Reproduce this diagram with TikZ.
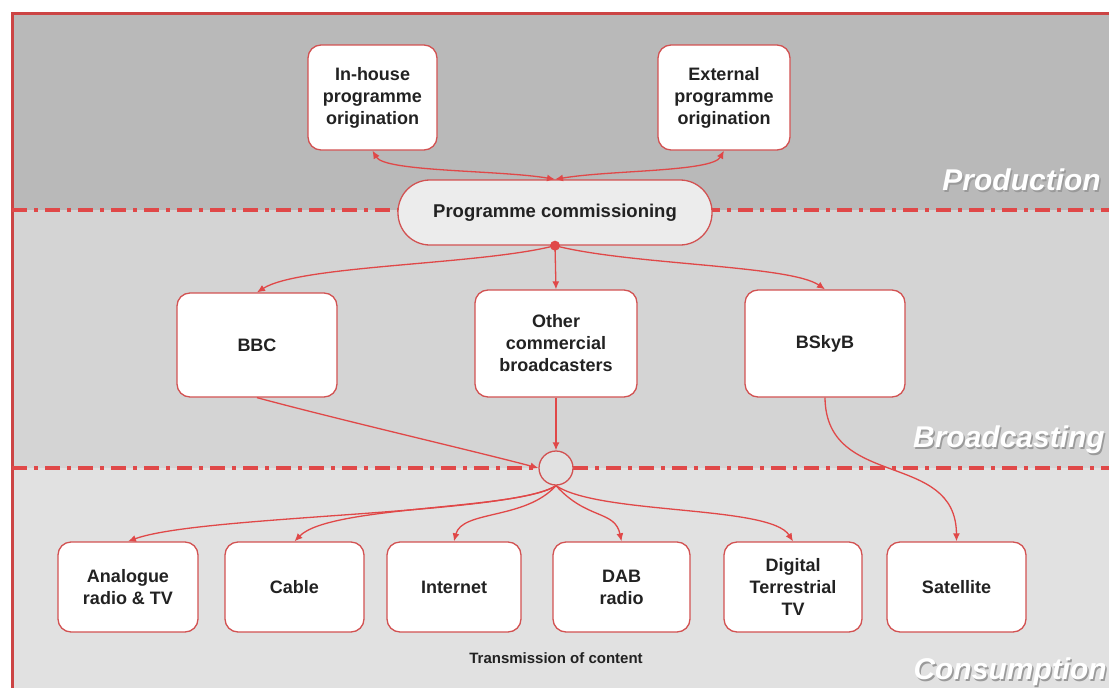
\documentclass[tikz,border=0pt]{standalone}
\usepackage{fontspec}
\setmainfont{Liberation Sans}
\usetikzlibrary{arrows.meta}
\definecolor{prodgray}{HTML}{B9B9B9}
\definecolor{broadgray}{HTML}{D4D4D4}
\definecolor{consgray}{HTML}{E1E1E1}
\definecolor{linered}{HTML}{E04848}
\definecolor{boxred}{HTML}{D25252}
\definecolor{framered}{HTML}{CC4444}
\definecolor{txt}{HTML}{222222}
\definecolor{commfill}{HTML}{ECECEC}
\definecolor{shadowgray}{HTML}{9A9A9A}
\begin{document}
\begin{tikzpicture}[x=1pt,y=-1pt,
  boxnode/.style={draw=boxred, line width=1.3pt, fill=white, rounded corners=13pt,
    align=center, text=txt, font=\fontsize{18}{22}\selectfont\bfseries, inner sep=0pt},
  conn/.style={draw=linered, line width=1.3pt},
  tip/.style={-{Latex[length=8pt,width=7pt]}},
  bitip/.style={{Latex[length=8pt,width=7pt]}-{Latex[length=8pt,width=7pt]}},
  divider/.style={draw=linered, line width=3.2pt, dash pattern=on 15pt off 7pt on 4pt off 7pt},
  section/.style={anchor=east, font=\fontsize{30}{34}\selectfont\bfseries\itshape, inner sep=0pt}
]
\useasboundingbox (0,0) rectangle (1109,688);
\fill[white] (0,0) rectangle (1109,688);
% bands
\fill[prodgray] (12,13) rectangle (1109,210);
\fill[broadgray] (12,210) rectangle (1109,468);
\fill[consgray] (12,468) rectangle (1109,688);
% frame
\draw[framered, line width=3pt] (12,688) -- (12,13) -- (1109,13);
% dividers
\draw[divider] (12,210) -- (1109,210);
\draw[divider] (12,468) -- (1109,468);
% section labels
\node[section, text=shadowgray] at (1102.5,181.5) {Production};
\node[section, text=white] (lprod) at (1101,180) {Production};
\node[section, text=shadowgray] at (1106.5,441.5) {Broadcasting};
\node[section, text=white] (lbroad) at (1105,440) {Broadcasting};
\node[section, text=shadowgray] at (1108.5,673.5) {Consumption};
\node[section, text=white] (lcons) at (1107,672) {Consumption};

% production
\node[boxnode, minimum width=129pt, minimum height=105pt] (inh) at (372.5,97.5) {In-house\\programme\\origination};
\node[boxnode, minimum width=132pt, minimum height=105pt] (ext) at (724,97.5) {External\\programme\\origination};
\node[boxnode, fill=commfill, rounded corners=32pt, minimum width=314pt, minimum height=65pt,
  font=\fontsize{18.5}{22}\selectfont\bfseries] (comm) at (555,212.5) {Programme commissioning};

% broadcasting
\node[boxnode, minimum width=160pt, minimum height=104pt] (bbc) at (257,345) {BBC};
\node[boxnode, minimum width=162pt, minimum height=107pt] (oth) at (556,343.5) {Other\\commercial\\broadcasters};
\node[boxnode, minimum width=160pt, minimum height=107pt] (bsky) at (825,343.5) {BSkyB};
\node[circle, draw=boxred, line width=1.3pt, fill=consgray, minimum size=34pt, inner sep=0pt] (hub) at (556,468) {};

% consumption
\node[boxnode, minimum width=140pt, minimum height=90pt] (ana) at (128,587) {Analogue\\radio \& TV};
\node[boxnode, minimum width=139pt, minimum height=90pt] (cab) at (294.5,587) {Cable};
\node[boxnode, minimum width=134pt, minimum height=90pt] (int) at (454,587) {Internet};
\node[boxnode, minimum width=137pt, minimum height=90pt] (dab) at (621.5,587) {DAB\\radio};
\node[boxnode, minimum width=138pt, minimum height=90pt] (dtt) at (793,587) {Digital\\Terrestrial\\TV};
\node[boxnode, minimum width=139pt, minimum height=90pt] (sat) at (956.5,587) {Satellite};
\node[text=txt, font=\fontsize{15}{17}\selectfont\bfseries] (trans) at (556,658) {Transmission of content};

% connectors: production
\draw[conn, bitip] (inh.south) .. controls (385,172) and (500,170) .. (comm.north);
\draw[conn, bitip] (ext.south) .. controls (712,172) and (610,170) .. (comm.north);
% commissioning to broadcasters
\draw[conn, tip] (comm.south) .. controls (480,265) and (300,265) .. (bbc.north);
\draw[conn, tip] (comm.south) -- (oth.north);
\draw[conn, tip] (comm.south) .. controls (630,265) and (790,265) .. (bsky.north);
\fill[linered] (comm.south) circle (5);
% broadcasters to transmission
\draw[conn, tip] (oth.south) -- (hub.north);
\draw[conn, tip] (bbc.south) .. controls (340,420) and (470,450) .. (hub.west);
\draw[conn, tip] (bsky.south) .. controls (826,490) and (956,450) .. (sat.north);
% hub to platforms
\draw[conn, tip] (hub.south) .. controls (510,515) and (200,515) .. (ana.north);
\draw[conn, tip] (hub.south) .. controls (520,510) and (330,505) .. (cab.north);
\draw[conn, tip] (hub.south) .. controls (525,520) and (462,510) .. (int.north);
\draw[conn, tip] (hub.south) .. controls (587,520) and (615,510) .. (dab.north);
\draw[conn, tip] (hub.south) .. controls (600,515) and (770,505) .. (dtt.north);
\end{tikzpicture}
\end{document}
